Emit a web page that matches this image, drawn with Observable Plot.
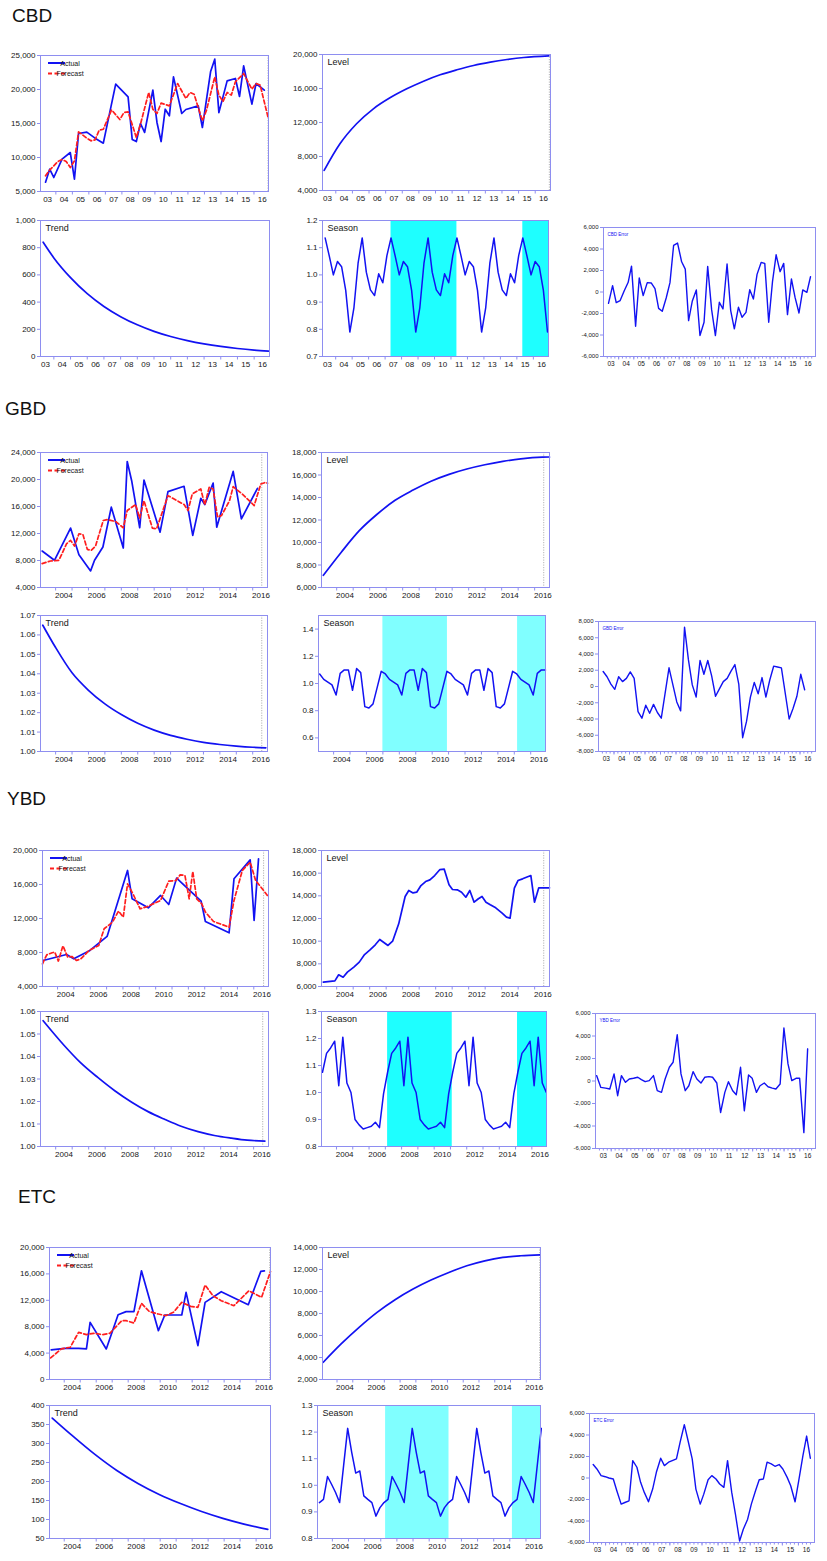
<!DOCTYPE html>
<html><head><meta charset="utf-8">
<script src="https://cdn.jsdelivr.net/npm/d3@7"></script>
<script src="https://cdn.jsdelivr.net/npm/@observablehq/plot@0.6"></script>
<style>
html,body{margin:0;padding:0;background:#fff}
#root{position:relative;width:827px;height:1561px;overflow:hidden;background:#fff;font-family:"Liberation Sans",Arial,Helvetica,sans-serif}
.ttl{position:absolute;font-size:19px;line-height:19px;color:#111;white-space:nowrap}
#root svg{position:absolute;max-width:none}
</style></head><body><div id="root"></div>
<script>
// ---------------- DATA (t = decimal year, v = value) ----------------
const sections = ["CBD", "GBD", "YBD", "ETC"];

// CBD
const cbdActualT = [2003.375,2003.625,2003.875,2004.375,2004.875,2005.125,2005.375,2005.875,2006.375,2006.875,2007.625,2008.375,2008.625,2008.875,2009.125,2009.375,2009.875,2010.125,2010.375,2010.625,2010.875,2011.125,2011.625,2011.875,2012.625,2012.875,2013.375,2013.625,2013.875,2014.375,2014.875,2015.125,2015.375,2015.875,2016.125,2016.625];
const cbdActual = [6370,8280,7060,9760,10730,6810,13530,13730,12840,12110,20780,18920,12650,12350,15000,13680,19900,15150,12350,17100,16130,21860,16470,17060,17600,14410,22650,24460,16600,21270,21620,18970,23480,17840,20880,19900];
const cbdForecastT = [2003.375,2003.625,2004.125,2004.375,2004.625,2004.875,2005.125,2005.375,2005.875,2006.125,2006.375,2006.625,2006.875,2007.375,2007.875,2008.125,2008.375,2008.875,2009.125,2009.625,2009.875,2010.125,2010.375,2010.875,2011.375,2011.875,2012.125,2012.375,2012.875,2013.125,2013.625,2013.875,2014.125,2014.375,2014.625,2014.875,2015.375,2015.875,2016.125,2016.375,2016.875];
const cbdForecast = [7300,8140,9410,9700,9410,8530,9500,13770,12840,12450,12600,14020,14160,17000,15590,16620,16720,12940,14900,19560,17100,16470,18000,17600,20880,18680,19560,19310,15390,16960,21860,19170,18240,19560,19170,21130,22350,20050,20880,20640,15690];
const cbdLevelT = [2003.30,2004.25,2005.25,2006.26,2007.26,2008.27,2009.28,2010.28,2011.29,2012.29,2013.30,2014.30,2015.31,2016.82];
const cbdLevel = [6360,9490,11850,13610,14900,15960,16860,17610,18200,18710,19100,19410,19650,19840];
const cbdTrendT = [2003.36,2004.0,2005.0,2006.0,2007.0,2008.0,2009.0,2010.0,2011.0,2012.0,2013.0,2014.0,2015.0,2016.0,2016.86];
const cbdTrend = [840,725,580,462,368,293,233,185,147,117,93,74,59,47,39];
const cbdSeasonStart = 2003.36;
const cbdSeason = [1.136,1.07,1.0,1.049,1.03,0.943,0.79,0.88,1.043,1.136,1.01,0.945,0.924,1.004,0.971,1.071,
  1.136,1.07,1.0,1.049,1.03,0.943,0.79,0.88,1.043,1.136,1.01,0.945,0.924,1.004,0.971,1.071,
  1.136,1.07,1.0,1.049,1.03,0.943,0.79,0.88,1.043,1.136,1.01,0.945,0.924,1.004,0.971,1.071,
  1.136,1.07,1.0,1.049,1.03,0.943,0.79];
const cbdBands = [[2007.36, 2011.36], [2015.36, 2016.92]];
const cbdErrorT = [2003.33,2003.60,2003.84,2004.10,2004.37,2004.63,2004.85,2005.12,2005.36,2005.62,2005.89,2006.15,2006.40,2006.64,2006.88,2007.14,2007.39,2007.63,2007.89,2008.16,2008.40,2008.62,2008.86,2009.13,2009.37,2009.64,2009.88,2010.14,2010.39,2010.65,2010.89,2011.16,2011.40,2011.64,2011.91,2012.15,2012.41,2012.66,2012.90,2013.14,2013.41,2013.65,2013.91,2014.16,2014.40,2014.66,2014.90,2015.15,2015.41,2015.65,2015.91,2016.16,2016.43,2016.67];
const cbdError = [-1050,590,-990,-800,120,900,2410,-3190,1300,-340,870,840,310,-1520,-1790,-560,870,4330,4550,2810,2130,-2660,-870,190,-4050,-2810,2380,-1640,-4050,-960,-1580,2600,-1730,-3430,-1420,-2350,-1890,220,-650,1640,2750,2660,-2810,960,3460,1890,2660,-2100,1210,-500,-1950,190,-30,1420];

// GBD
const gbdActualT = [2003.18,2003.93,2004.91,2005.42,2006.13,2006.37,2006.88,2007.39,2008.12,2008.36,2008.63,2009.12,2009.38,2010.36,2010.84,2011.82,2012.35,2012.84,2013.08,2013.59,2013.81,2014.81,2015.31,2016.29];
const gbdActual = [9400,8030,12800,8860,6460,8030,10000,15900,9850,22670,19820,12850,19920,12200,18200,18990,11720,17220,16280,19480,12940,21200,14170,18690];
const gbdForecastT = [2003.18,2003.69,2004.20,2004.67,2004.91,2005.15,2005.42,2005.66,2005.93,2006.17,2006.43,2006.90,2007.14,2007.65,2008.12,2008.36,2008.87,2009.12,2009.38,2009.89,2010.15,2010.84,2011.82,2012.06,2012.32,2012.84,2013.08,2013.35,2013.59,2013.86,2014.10,2014.59,2014.81,2015.31,2016.09,2016.49,2016.80,2016.90];
const gbdForecast = [7540,7930,8030,10490,10980,10140,11960,11860,9650,9500,10140,13930,14070,13780,12850,15400,16290,14270,16870,12800,12700,17610,16290,15400,17860,18600,16240,18840,18600,14420,14660,16870,18940,17960,16140,19330,19580,19430];
const gbdLevelT = [2003.19,2004.28,2005.37,2006.45,2007.54,2008.63,2009.72,2010.81,2011.89,2012.98,2014.07,2015.16,2016.47,2016.90];
const gbdLevel = [7085,9140,11050,12510,13750,14660,15450,16060,16530,16910,17210,17440,17590,17600];
const gbdTrendT = [2003.22,2004.0,2005.0,2006.0,2007.0,2008.0,2009.0,2010.0,2011.0,2012.0,2013.0,2014.0,2015.0,2016.0,2016.8];
const gbdTrend = [1.065,1.0535,1.0405,1.0315,1.0245,1.019,1.0145,1.011,1.0083,1.0063,1.0047,1.0036,1.0028,1.0022,1.0019];
const gbdSeasonStart = 2003.15;
const gbdSeason = [1.07,1.03,1.01,0.99,0.915,1.075,1.10,1.10,0.95,1.11,1.08,0.83,0.82,0.85,0.97,
  1.09,1.07,1.03,1.01,0.99,0.915,1.075,1.10,1.10,0.95,1.11,1.08,0.83,0.82,0.85,0.97,
  1.09,1.07,1.03,1.01,0.99,0.915,1.075,1.10,1.10,0.95,1.11,1.08,0.83,0.82,0.85,0.97,
  1.09,1.07,1.03,1.01,0.99,0.915,1.075,1.10,1.10];
const gbdBands = [[2007.0, 2010.93], [2015.2, 2016.9]];
const gbdErrorT = [2003.3,2003.55,2003.8,2004.05,2004.3,2004.55,2004.8,2005.05,2005.3,2005.55,2005.8,2006.05,2006.3,2006.55,2006.8,2007.05,2007.55,2007.8,2008.05,2008.3,2008.55,2008.8,2009.05,2009.3,2009.55,2009.8,2010.05,2010.3,2010.55,2010.8,2011.05,2011.3,2011.55,2011.8,2012.05,2012.3,2012.55,2012.8,2013.05,2013.3,2013.55,2013.8,2014.05,2014.3,2014.55,2014.8,2015.3,2015.55,2015.8,2016.05,2016.3];
const gbdError = [1850,1200,300,-350,1200,600,1000,1800,1000,-3100,-3900,-2300,-3300,-2200,-3200,-3900,2300,200,-1900,-3000,7300,3300,200,-1300,3200,1500,3200,1300,-1200,-300,600,1000,1900,2700,300,-6300,-4300,-1300,500,-900,1100,-1300,800,2500,2400,2300,-4000,-2700,-1200,1500,-400];

// YBD
const ybdActualT = [2003.12,2004.55,2004.99,2005.98,2007.03,2008.28,2008.56,2009.55,2010.30,2010.80,2011.28,2012.78,2013.04,2014.49,2014.79,2015.78,2016.02,2016.29];
const ybdActual = [7060,7770,7260,8240,9890,17650,14320,13260,14710,13650,16750,14040,11650,10320,16670,18900,11770,19020];
const ybdForecastT = [2003.08,2003.34,2003.67,2003.83,2004.05,2004.33,2004.62,2004.88,2005.16,2005.43,2005.93,2006.52,2006.85,2007.36,2007.73,2008.02,2008.28,2008.61,2009.05,2009.49,2010.30,2010.80,2011.24,2011.50,2011.79,2012.05,2012.27,2012.51,2012.82,2013.04,2013.54,2014.49,2014.79,2015.30,2015.78,2016.11,2016.44,2016.83];
const ybdForecast = [6670,7730,7970,8040,6990,8790,7460,7530,7060,7260,8240,8830,10790,11570,12870,12160,16080,14900,13140,13410,14120,16390,16470,17140,17060,14320,17530,14320,13730,12750,11650,10980,14120,17650,18630,16470,15690,14710];
const ybdLevelT = [2003.19,2003.89,2004.12,2004.39,2004.65,2005.04,2005.37,2005.69,2006.02,2006.34,2006.61,2007.11,2007.39,2007.76,2008.15,2008.37,2008.63,2008.85,2009.11,2009.39,2009.65,2009.94,2010.26,2010.52,2010.81,2011.02,2011.31,2011.57,2011.83,2012.07,2012.33,2012.59,2012.81,2013.05,2013.31,2013.64,2014.03,2014.29,2014.51,2014.77,2014.99,2015.27,2015.77,2015.99,2016.25,2016.90];
const ybdLevel = [6380,6500,7030,6820,7270,7710,8150,8820,9240,9680,10150,9620,10000,11530,13940,14470,14260,14320,14910,15260,15410,15790,16320,16350,14970,14560,14530,14320,13880,14470,13440,13740,13940,13440,13210,12940,12470,12120,12030,14680,15350,15500,15790,13440,14710,14710];
const ybdTrendT = [2003.24,2004.53,2005.49,2006.55,2007.58,2008.61,2009.60,2010.63,2011.60,2012.63,2013.62,2014.65,2015.61,2016.68];
const ybdTrend = [1.0559,1.0448,1.0374,1.0307,1.0248,1.0197,1.0155,1.0120,1.0090,1.0066,1.0049,1.0037,1.0028,1.0024];
const ybdSeasonStart = 2003.14;
const ybdSeason = [1.075,1.145,1.165,1.19,1.025,1.205,1.035,1.0,0.9,0.88,0.865,0.87,0.875,0.89,0.87,0.995,
  1.075,1.145,1.165,1.19,1.025,1.205,1.035,1.0,0.9,0.88,0.865,0.87,0.875,0.89,0.87,0.995,
  1.075,1.145,1.165,1.19,1.025,1.205,1.035,1.0,0.9,0.88,0.865,0.87,0.875,0.89,0.87,0.995,
  1.075,1.145,1.165,1.19,1.025,1.205,1.035,1.0];
const ybdBands = [[2007.14, 2011.11], [2015.12, 2016.9]];
const ybdErrorT = [2003.07,2003.34,2003.64,2003.91,2004.18,2004.41,2004.65,2004.91,2005.15,2005.42,2005.69,2005.92,2006.16,2006.42,2006.69,2006.93,2007.20,2007.43,2007.70,2007.94,2008.20,2008.44,2008.71,2008.94,2009.21,2009.45,2009.71,2009.95,2010.22,2010.45,2010.72,2010.96,2011.23,2011.46,2011.73,2011.96,2012.23,2012.47,2012.74,2012.97,2013.24,2013.47,2013.74,2013.98,2014.25,2014.48,2014.75,2014.99,2015.25,2015.49,2015.76,2015.99,2016.26,2016.50];
const ybdError = [480,-570,-630,-710,630,-1310,480,-120,180,240,330,120,-60,30,480,-860,-1010,180,1220,1670,4110,630,-860,-420,830,180,-180,330,390,330,-180,-2800,-1010,-60,-860,-1220,1220,-2650,540,240,-1010,-420,-180,-510,-630,-710,-270,4710,1520,30,240,240,-4590,2860];

// ETC
const etcActualT = [2003.19,2004.05,2004.90,2005.39,2005.62,2006.63,2007.37,2007.87,2008.36,2008.83,2009.89,2010.29,2011.35,2011.62,2012.36,2012.81,2013.82,2015.51,2016.29,2016.52];
const etcActual = [4480,4730,4730,4630,8660,4630,9820,10280,10280,16470,7400,9770,9770,13200,5140,11690,13300,11330,16370,16470];
const etcForecastT = [2003.15,2003.82,2004.38,2004.90,2005.39,2005.84,2006.41,2006.85,2007.60,2007.87,2008.36,2008.83,2009.33,2009.89,2010.34,2010.83,2011.35,2011.91,2012.36,2012.81,2013.30,2013.82,2014.61,2015.55,2016.34,2016.90];
const etcForecast = [3270,4630,4890,7150,6800,7000,6800,7000,8920,8920,8560,11540,10280,9920,9670,10180,11690,11080,10930,14310,12690,11940,11180,13450,12440,16370];
const etcLevelT = [2003.13,2004.26,2005.40,2006.54,2007.68,2008.82,2009.96,2011.09,2012.23,2013.37,2014.51,2015.65,2016.88];
const etcLevel = [3570,5230,6740,8100,9250,10220,11040,11730,12340,12790,13100,13250,13330];
const etcTrendT = [2003.25,2004.47,2005.96,2007.29,2008.61,2009.94,2011.27,2012.59,2013.92,2015.24,2016.73];
const etcTrend = [367,322,270,229,195,166,142,121,103,88,74];
const etcSeasonStart = 2003.2;
const etcSeason = [0.935,0.947,1.033,1.004,0.973,0.935,1.075,1.214,1.124,1.046,1.054,0.96,0.947,0.935,0.884,0.916,
  0.935,0.947,1.033,1.004,0.973,0.935,1.075,1.214,1.124,1.046,1.054,0.96,0.947,0.935,0.884,0.916,
  0.935,0.947,1.033,1.004,0.973,0.935,1.075,1.214,1.124,1.046,1.054,0.96,0.947,0.935,0.884,0.916,
  0.935,0.947,1.033,1.004,0.973,0.935,1.075,1.214];
const etcBands = [[2007.3, 2011.23], [2015.16, 2016.9]];
const etcErrorT = [2003.23,2003.46,2003.72,2003.98,2004.21,2004.48,2004.70,2004.97,2005.20,2005.46,2005.69,2005.95,2006.18,2006.41,2006.67,2006.93,2007.16,2007.43,2007.66,2007.92,2008.15,2008.41,2008.64,2008.90,2009.13,2009.39,2009.62,2009.89,2010.11,2010.38,2010.61,2010.87,2011.10,2011.36,2011.59,2011.85,2012.08,2012.34,2012.57,2012.84,2013.07,2013.33,2013.56,2013.82,2014.05,2014.31,2014.54,2014.80,2015.03,2015.30,2015.52,2015.79,2016.02,2016.28,2016.51,2016.74];
const etcError = [1250,840,220,120,0,-90,-1180,-2430,-2280,-2120,1620,1000,-400,-1340,-2210,-1030,530,1840,1150,1470,1620,1780,3340,4960,3490,1780,-1030,-2430,-1500,-160,220,-90,-560,-870,1620,-1340,-3370,-5860,-4770,-3830,-2430,-1180,-160,-90,1470,1310,1090,1250,840,60,-720,-2210,-250,2090,3900,1840];

// ---------------- RENDERING ----------------
const root = document.getElementById("root");
const FRAME = "#8e8ef0", BLUE = "#1212f2", RED = "#ff1e1e", CYAN = "#1effff", CYAN2 = "#80ffff", TXT = "#161616";
const FONT = "'Liberation Sans', Arial, Helvetica, sans-serif";
const pts = (T, V) => T.map((t, i) => ({t, v: V[i]}));
const qpts = (start, V) => V.map((v, k) => ({t: start + 0.25 * k, v}));
const fmtN = d => (d < 0 ? "-" : "") + d3.format(",")(Math.abs(d));
const f1 = d3.format(".1f"), f2 = d3.format(".2f");

function title(text, x, baseline) {
  const d = document.createElement("div");
  d.className = "ttl"; d.textContent = text;
  d.style.left = x + "px"; d.style.top = (baseline - 16) + "px";
  root.appendChild(d);
}

function drawPanel(c) {
  const ml = 40, mr = 6, mt = 3, mb = 16;
  const w = c.x1 - c.x0, h = c.y1 - c.y0;
  const err = c.xlab === "err";
  const years = d3.range(2003, 2018);
  const inside = v => v > c.xdom[0] + 0.02 && v < c.xdom[1] - 0.02;
  const yearTicks = years.filter(inside);
  const labelYears = years.filter(y => inside(y + 0.5) && (c.xlab !== "yyyy" || y % 2 === 0));
  const marks = [];
  if (c.bands) marks.push(Plot.rect(c.bands, {x1: d => d[0], x2: d => d[1], fill: c.bandFill}));
  if (c.rules) marks.push(Plot.ruleX(c.rules, {stroke: "#b4b4b4", strokeDasharray: "1.2,1.3", strokeWidth: 1}));
  for (const s of c.series) {
    marks.push(Plot.line(s.data, {x: "t", y: "v", stroke: s.stroke, strokeWidth: s.width ?? 1.6,
      strokeDasharray: s.dash, curve: s.curve ?? "linear", strokeLinejoin: "round"}));
  }
  marks.push(Plot.frame({stroke: FRAME, strokeWidth: 1}));
  marks.push(Plot.axisY({ticks: c.yticks, tickFormat: c.yfmt, tickSize: 3, tickPadding: 2,
    stroke: FRAME, fill: TXT, fontSize: c.yfs ?? 8, label: null}));
  if (err) {
    const quarters = d3.range(2003, 2017, 0.25).filter(inside);
    marks.push(Plot.axisX({ticks: quarters, tickSize: 2.5, tickFormat: () => "", stroke: FRAME, label: null}));
  }
  marks.push(Plot.axisX({ticks: yearTicks, tickSize: 3.5, tickFormat: () => "", stroke: FRAME, label: null}));
  marks.push(Plot.axisX({ticks: labelYears.map(y => y + 0.5), tickSize: 0, tickPadding: 5,
    tickFormat: t => { const y = Math.floor(t); return c.xlab === "yyyy" ? String(y) : String(y).slice(2); },
    fill: TXT, fontSize: c.xfs ?? 8, label: null}));
  if (c.label) marks.push(Plot.text([c.label], {text: d => d, frameAnchor: "top-left", dx: c.labelDx ?? 5, dy: c.labelDy ?? 4,
    lineAnchor: "top", textAnchor: "start", fontSize: c.labelSize ?? 9, fill: c.labelColor ?? TXT}));
  const svg = Plot.plot({
    width: w + ml + mr, height: h + mt + mb,
    marginLeft: ml, marginRight: mr, marginTop: mt, marginBottom: mb,
    x: {domain: c.xdom, label: null}, y: {domain: c.ydom, label: null},
    style: {fontFamily: FONT, fontSize: "8px", background: "transparent", overflow: "visible", color: TXT},
    marks
  });
  svg.style.left = (c.x0 - ml) + "px";
  svg.style.top = (c.y0 - mt) + "px";
  if (c.legend) {
    const g = d3.select(svg).append("g").attr("font-family", FONT).attr("font-size", 7).attr("fill", TXT);
    const lx = ml + 8;
    g.append("line").attr("x1", lx).attr("x2", lx + 17).attr("y1", mt + 8).attr("y2", mt + 8)
      .attr("stroke", BLUE).attr("stroke-width", 2);
    g.append("text").attr("x", lx + 22).attr("y", mt + 10.5).text("Actual");
    g.append("line").attr("x1", lx).attr("x2", lx + 17).attr("y1", mt + 18.5).attr("y2", mt + 18.5)
      .attr("stroke", RED).attr("stroke-width", 2).attr("stroke-dasharray", "4,2.5");
    g.append("text").attr("x", lx + 22).attr("y", mt + 21).text("Forecast");
  }
  root.appendChild(svg);
}

const D1 = [2003.08, 2016.9];
const specs = {
  CBD: {tx: 12, tb: 22,
    A: {x0: 40, x1: 268, y0: 55, y1: 191, xdom: [2003.07, 2016.88], ydom: [5000, 25000], yticks: d3.range(5000, 25001, 5000), xlab: "yy",
        act: pts(cbdActualT, cbdActual), fc: pts(cbdForecastT, cbdForecast), rules: [2016.85]},
    L: {x0: 322, x1: 550, y0: 54, y1: 190, xdom: [2003.2, 2016.92], ydom: [4000, 20000], yticks: d3.range(4000, 20001, 4000), xlab: "yy",
        data: pts(cbdLevelT, cbdLevel), curve: "monotone-x", rules: [2016.85]},
    T: {x0: 40, x1: 269, y0: 220, y1: 356, xdom: [2003.2, 2016.92], ydom: [0, 1000], yticks: d3.range(0, 1001, 200), yfmt: fmtN, xlab: "yy",
        data: pts(cbdTrendT, cbdTrend), curve: "monotone-x"},
    S: {x0: 322, x1: 548, y0: 220, y1: 356, xdom: [2003.2, 2016.92], ydom: [0.7, 1.2], yticks: d3.range(0.7, 1.201, 0.1), yfmt: f1, xlab: "yy",
        data: qpts(cbdSeasonStart, cbdSeason), bands: cbdBands, bandFill: CYAN},
    E: {x0: 603, x1: 815, y0: 227, y1: 356, ydom: [-6000, 6000], yticks: d3.range(-6000, 6001, 2000),
        data: pts(cbdErrorT, cbdError)}
  },
  GBD: {tx: 5, tb: 415,
    A: {x0: 40, x1: 267, y0: 452, y1: 587, xdom: D1, ydom: [4000, 24000], yticks: d3.range(4000, 24001, 4000), xlab: "yyyy",
        act: pts(gbdActualT, gbdActual), fc: pts(gbdForecastT, gbdForecast), rules: [2016.55]},
    L: {x0: 321, x1: 549, y0: 452, y1: 587, xdom: D1, ydom: [6000, 18000], yticks: d3.range(6000, 18001, 2000), xlab: "yyyy",
        data: pts(gbdLevelT, gbdLevel), curve: "monotone-x", rules: [2016.55]},
    T: {x0: 40, x1: 267, y0: 615, y1: 751, xdom: D1, ydom: [1.0, 1.07], yticks: d3.range(1.0, 1.0701, 0.01), yfmt: f2, xlab: "yyyy",
        data: pts(gbdTrendT, gbdTrend), curve: "monotone-x", rules: [2016.55]},
    S: {x0: 318, x1: 545, y0: 615, y1: 751, xdom: D1, ydom: [0.5, 1.5], yticks: [0.6, 0.8, 1.0, 1.2, 1.4], yfmt: f1, xlab: "yyyy",
        data: qpts(gbdSeasonStart, gbdSeason), bands: gbdBands, bandFill: CYAN2},
    E: {x0: 598, x1: 815, y0: 621, y1: 751, ydom: [-8000, 8000], yticks: d3.range(-8000, 8001, 2000),
        data: pts(gbdErrorT, gbdError)}
  },
  YBD: {tx: 7, tb: 805,
    A: {x0: 42, x1: 268, y0: 850, y1: 986, xdom: D1, ydom: [4000, 20000], yticks: d3.range(4000, 20001, 4000), xlab: "yyyy",
        act: pts(ybdActualT, ybdActual), fc: pts(ybdForecastT, ybdForecast), rules: [2016.6]},
    L: {x0: 321, x1: 549, y0: 850, y1: 986, xdom: D1, ydom: [6000, 18000], yticks: d3.range(6000, 18001, 2000), xlab: "yyyy",
        data: pts(ybdLevelT, ybdLevel), curve: "linear", rules: [2016.55]},
    T: {x0: 40, x1: 268, y0: 1011, y1: 1146, xdom: D1, ydom: [1.0, 1.06], yticks: d3.range(1.0, 1.0601, 0.01), yfmt: f2, xlab: "yyyy",
        data: pts(ybdTrendT, ybdTrend), curve: "monotone-x", rules: [2016.55]},
    S: {x0: 321, x1: 546, y0: 1011, y1: 1146, xdom: D1, ydom: [0.8, 1.3], yticks: d3.range(0.8, 1.301, 0.1), yfmt: f1, xlab: "yyyy",
        data: qpts(ybdSeasonStart, ybdSeason), bands: ybdBands, bandFill: CYAN},
    E: {x0: 595, x1: 815, y0: 1013, y1: 1148, ydom: [-6000, 6000], yticks: d3.range(-6000, 6001, 2000),
        data: pts(ybdErrorT, ybdError)}
  },
  ETC: {tx: 18, tb: 1203,
    A: {x0: 49, x1: 270, y0: 1247, y1: 1379, xdom: D1, ydom: [0, 20000], yticks: d3.range(0, 20001, 4000), xlab: "yyyy",
        act: pts(etcActualT, etcActual), fc: pts(etcForecastT, etcForecast), rules: [2016.85]},
    L: {x0: 322, x1: 540, y0: 1247, y1: 1379, xdom: D1, ydom: [2000, 14000], yticks: d3.range(2000, 14001, 2000), xlab: "yyyy",
        data: pts(etcLevelT, etcLevel), curve: "monotone-x", rules: [2016.85]},
    T: {x0: 49, x1: 270, y0: 1405, y1: 1538, xdom: D1, ydom: [50, 400], yticks: d3.range(50, 401, 50), yfmt: fmtN, xlab: "yyyy",
        data: pts(etcTrendT, etcTrend), curve: "monotone-x"},
    S: {x0: 317, x1: 540, y0: 1405, y1: 1538, xdom: D1, ydom: [0.8, 1.3], yticks: d3.range(0.8, 1.301, 0.1), yfmt: f1, xlab: "yyyy",
        data: qpts(etcSeasonStart, etcSeason), bands: etcBands, bandFill: CYAN2},
    E: {x0: 589, x1: 814, y0: 1413, y1: 1542, ydom: [-6000, 6000], yticks: d3.range(-6000, 6001, 2000),
        data: pts(etcErrorT, etcError)}
  }
};

for (const name of sections) {
  const s = specs[name];
  title(name, s.tx, s.tb);
  const A = s.A;
  drawPanel({...A, yfmt: fmtN, legend: true,
    series: [{data: A.act, stroke: BLUE, width: 1.7}, {data: A.fc, stroke: RED, width: 1.7, dash: "4,2.5"}]});
  const L = s.L;
  drawPanel({...L, yfmt: fmtN, label: "Level", series: [{data: L.data, stroke: BLUE, width: 1.7, curve: L.curve}]});
  const T = s.T;
  drawPanel({...T, yfmt: T.yfmt ?? fmtN, label: "Trend", series: [{data: T.data, stroke: BLUE, width: 1.7, curve: T.curve}]});
  const S = s.S;
  drawPanel({...S, label: "Season", series: [{data: S.data, stroke: BLUE, width: 1.5}]});
  const E = s.E;
  drawPanel({...E, xdom: [2003, 2017], xlab: "err", yfmt: fmtN, yfs: 6, xfs: 6.5,
    label: name + " Error", labelSize: 4.5, labelColor: BLUE, labelDx: 4, labelDy: 5,
    series: [{data: E.data, stroke: BLUE, width: 1.4}]});
}
</script>
</body></html>
